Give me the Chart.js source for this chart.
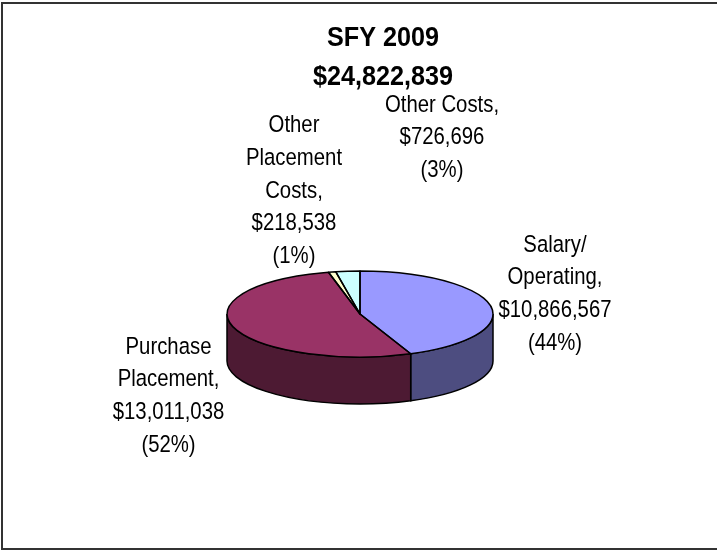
<!DOCTYPE html>
<html>
<head>
<meta charset="utf-8">
<style>
  html, body { margin: 0; padding: 0; background: #fff; }
  canvas { display: block; }
</style>
<script src="https://cdn.jsdelivr.net/npm/chart.js@4"></script>
</head>
<body>
<canvas id="costChart" width="717" height="550"></canvas>
<script>
const titleLines = ["SFY 2009", "$24,822,839"];
const categories = ["Salary/ Operating", "Purchase Placement", "Other Placement Costs", "Other Costs"];
const costs = [10866567, 13011038, 218538, 726696];
const topColors = ["#9999FF", "#993366", "#FFFFCC", "#CCFFFF"];
const sideColors = ["#4D4D80", "#4D1A33", "#80806A", "#6A8080"];

// label text, one entry per line, same order as categories
const labelLines = [
  ["Salary/", "Operating,", "$10,866,567", "(44%)"],
  ["Purchase", "Placement,", "$13,011,038", "(52%)"],
  ["Other", "Placement", "Costs,", "$218,538", "(1%)"],
  ["Other Costs,", "$726,696", "(3%)"],
];
// centre x and first line y of each label
const labelSpots = [[555, 245], [168.5, 347], [294, 125.5], [442, 105]];

const squash = 43 / 133; // tilt of the pie top
const depth = 47;

function drawLines(ctx, lines, x, y, gap, font, stretch) {
  ctx.save();
  ctx.font = font;
  ctx.fillStyle = "#000";
  ctx.textAlign = "center";
  ctx.textBaseline = "middle";
  lines.forEach((line, i) => {
    ctx.save();
    ctx.translate(x, y + i * gap);
    ctx.scale(stretch, 1);
    ctx.fillText(line, 0, 0);
    ctx.restore();
  });
  ctx.restore();
}

const pie3d = {
  id: "pie3d",
  beforeDraw(chart) {
    const ctx = chart.ctx;
    ctx.save();
    ctx.fillStyle = "#fff";
    ctx.fillRect(0, 0, chart.width, chart.height);
    ctx.strokeStyle = "#333";
    ctx.lineWidth = 2;
    ctx.beginPath();
    ctx.moveTo(chart.width, 3);
    ctx.lineTo(2, 3);
    ctx.lineTo(2, 549);
    ctx.lineTo(chart.width, 549);
    ctx.stroke();
    ctx.restore();
  },
  beforeDatasetsDraw(chart) {
    const ctx = chart.ctx;
    const arcs = chart.getDatasetMeta(0).data;
    const { x, y, outerRadius: r } = arcs[0];
    const ry = r * squash;

    // walls: only the part of each slice facing the viewer
    ctx.save();
    ctx.strokeStyle = "#000";
    ctx.lineWidth = 1.5;
    arcs.forEach((arc, i) => {
      const from = Math.max(arc.startAngle, 0);
      const to = Math.min(arc.endAngle, Math.PI);
      if (to <= from) return;
      ctx.beginPath();
      ctx.ellipse(x, y, r, ry, 0, from, to);
      ctx.ellipse(x, y + depth, r, ry, 0, to, from, true);
      ctx.closePath();
      ctx.fillStyle = sideColors[i];
      ctx.fill();
      ctx.stroke();
    });
    ctx.restore();

    // the library draws the top flattened
    ctx.save();
    ctx.translate(x, y);
    ctx.scale(1, squash);
    ctx.translate(-x, -y);
  },
  afterDatasetsDraw(chart) {
    const ctx = chart.ctx;
    ctx.restore();
    const arcs = chart.getDatasetMeta(0).data;
    ctx.save();
    ctx.strokeStyle = "#000";
    ctx.lineWidth = 1.5;
    ctx.lineJoin = "round";
    arcs.forEach((arc) => {
      ctx.beginPath();
      ctx.moveTo(arc.x, arc.y);
      ctx.ellipse(arc.x, arc.y, arc.outerRadius, arc.outerRadius * squash, 0, arc.startAngle, arc.endAngle);
      ctx.closePath();
      ctx.stroke();
    });
    ctx.restore();
  },
  afterDraw(chart) {
    const ctx = chart.ctx;
    drawLines(ctx, titleLines, 383, 38, 39, 'bold 28px "Liberation Sans", Arial, sans-serif', 0.9);
    labelLines.forEach((lines, i) => {
      drawLines(ctx, lines, labelSpots[i][0], labelSpots[i][1], 32.7, '24.5px "Liberation Sans", Arial, sans-serif', 0.83);
    });
  },
};

const ctx = document.getElementById("costChart").getContext("2d");
new Chart(ctx, {
  type: "pie",
  data: {
    labels: categories,
    datasets: [
      {
        data: costs,
        backgroundColor: topColors,
        borderWidth: 0,
      },
    ],
  },
  options: {
    responsive: false,
    animation: false,
    layout: { padding: { left: 227, right: 224, top: 181, bottom: 103 } },
    plugins: {
      legend: { display: false },
      tooltip: { enabled: false },
    },
  },
  plugins: [pie3d],
});
</script>
</body>
</html>
